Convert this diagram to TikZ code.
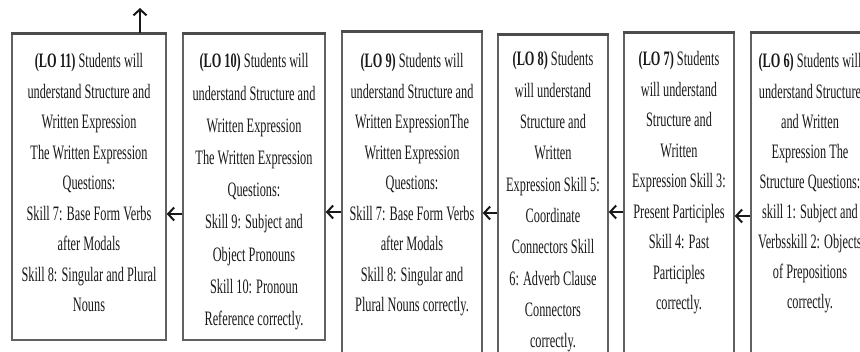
\documentclass[tikz,border=0pt]{standalone}
\usepackage{fontspec}
\setmainfont[FakeStretch=0.6]{Liberation Serif}
\usetikzlibrary{arrows.meta}
\tikzset{
  box/.style={draw=black!62, line width=1.5pt, fill=none, inner sep=0pt},
  topedge/.style={draw=black!70, line width=2.6pt},
  txt/.style={align=center, inner sep=0pt, anchor=north, text=black!90,
              font=\fontsize{20.5}{30.5}\selectfont},
  arr/.style={draw=black!90, line width=2pt, -{Straight Barb[length=6pt,width=13pt,line width=2pt]}}
}
\begin{document}
\begin{tikzpicture}[x=1pt,y=-1pt]
\useasboundingbox (0,0) rectangle (860,352);
% boxes
\node[box, minimum width=154pt, minimum height=306pt] (B1) at (89,187) {};
\node[box, minimum width=142pt, minimum height=306pt] (B2) at (254,187) {};
\node[box, minimum width=140pt, minimum height=340pt] (B3) at (412,202) {};
\node[box, minimum width=110pt, minimum height=337pt] (B4) at (553,203.5) {};
\node[box, minimum width=110pt, minimum height=339pt] (B5) at (679,202.5) {};
\node[box, minimum width=118pt, minimum height=339pt] (B6) at (810,202.5) {};
\foreach \n in {B1,B2,B3,B4,B5,B6} \draw[topedge] (\n.north west) -- (\n.north east);
% texts
\node[txt] (T1) at (89,53.5) {\textbf{(LO 11)} Students will\\understand Structure and\\Written Expression\\The Written Expression\\Questions:\\Skill 7: Base Form Verbs\\after Modals\\Skill 8: Singular and Plural\\Nouns};
\node[txt, font=\fontsize{20.5}{32.2}\selectfont] (T2) at (254,53.5) {\textbf{(LO 10)} Students will\\understand Structure and\\Written Expression\\The Written Expression\\Questions:\\Skill 9: Subject and\\Object Pronouns\\Skill 10: Pronoun\\Reference correctly.};
\node[txt] (T3) at (412,53.5) {\textbf{(LO 9)} Students will\\understand Structure and\\Written ExpressionThe\\Written Expression\\Questions:\\Skill 7: Base Form Verbs\\after Modals\\Skill 8: Singular and\\Plural Nouns correctly.};
\node[txt, font=\fontsize{20.5}{31.3}\selectfont] (T4) at (553,51.5) {\textbf{(LO 8)} Students\\will understand\\Structure and\\Written\\Expression Skill 5:\\Coordinate\\Connectors Skill\\6: Adverb Clause\\Connectors\\correctly.};
\node[txt] (T5) at (679,51.5) {\textbf{(LO 7)} Students\\will understand\\Structure and\\Written\\Expression Skill 3:\\Present Participles\\Skill 4: Past\\Participles\\correctly.};
\node[txt, font=\fontsize{20.5}{30.1}\selectfont] (T6) at (810,53.5) {\textbf{(LO 6)} Students will\\understand Structure\\and Written\\Expression The\\Structure Questions:\\skill 1: Subject and\\Verbsskill 2: Objects\\of Prepositions\\correctly.};
% connectors
\draw[arr] (B2.west |- {(0,214)}) -- (B1.east |- {(0,214)});
\draw[arr] (B3.west |- {(0,212)}) -- (B2.east |- {(0,212)});
\draw[arr] (B4.west |- {(0,213)}) -- (B3.east |- {(0,213)});
\draw[arr] (B5.west |- {(0,212)}) -- (B4.east |- {(0,212)});
\draw[arr] (B6.west |- {(0,216)}) -- (B5.east |- {(0,216)});
\coordinate (up) at (140,8);
\draw[arr] (B1.north -| up) -- (up);
\end{tikzpicture}
\end{document}
